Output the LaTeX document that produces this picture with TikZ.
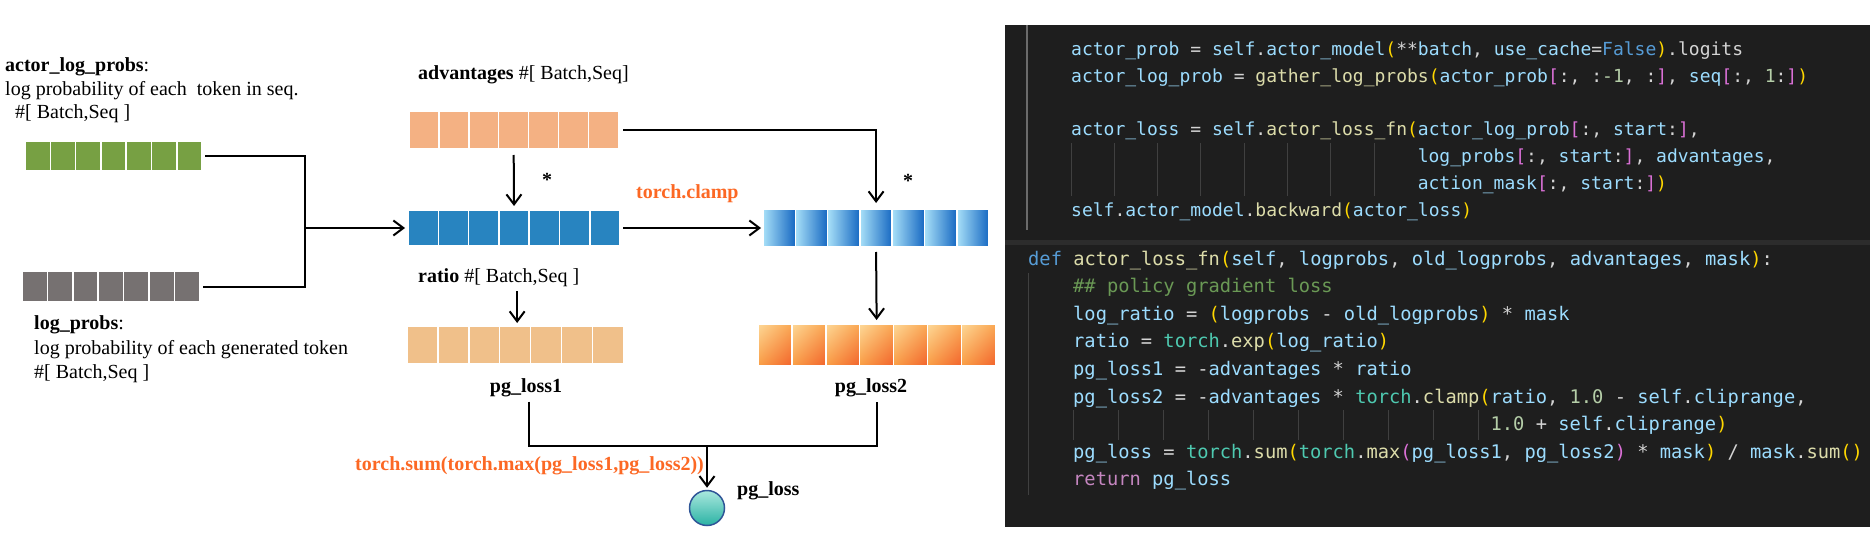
\documentclass[tikz,border=0pt]{standalone}
\usepackage{fontspec}
\setmainfont{Liberation Serif}
\newfontfamily\codefont{DejaVu Sans Mono}
\usetikzlibrary{arrows.meta,shadings}
% diagram colours
\definecolor{cGreen}{RGB}{119,160,67}
\definecolor{cGray}{RGB}{118,113,113}
\definecolor{cAdv}{RGB}{244,177,131}
\definecolor{cBlue}{RGB}{40,132,192}
\definecolor{cRatio}{RGB}{240,192,138}
\definecolor{cGBl}{RGB}{168,224,248}
\definecolor{cGBm}{RGB}{110,182,232}
\definecolor{cGBr}{RGB}{22,104,194}
\definecolor{cGOul}{RGB}{253,216,152}
\definecolor{cGOur}{RGB}{250,168,82}
\definecolor{cGOll}{RGB}{249,158,68}
\definecolor{cGOlr}{RGB}{242,98,44}
\definecolor{cTorch}{RGB}{252,104,36}
\definecolor{cTeal}{RGB}{42,178,164}
\definecolor{cTealL}{RGB}{170,232,222}
\definecolor{cCircB}{RGB}{47,85,151}
% code colours
\definecolor{cBg}{RGB}{30,30,30}
\definecolor{cSep}{RGB}{44,44,44}
\definecolor{cGuide}{RGB}{64,64,64}
\definecolor{cGuideA}{RGB}{107,107,107}
\definecolor{cVar}{HTML}{9CDCFE}
\definecolor{cFun}{HTML}{DCDCAA}
\definecolor{cOp}{HTML}{D4D4D4}
\definecolor{cKw}{HTML}{569CD6}
\definecolor{cRet}{HTML}{C586C0}
\definecolor{cCom}{HTML}{6A9955}
\definecolor{cNum}{HTML}{B5CEA8}
\definecolor{cCls}{HTML}{4EC9B0}
\definecolor{cBrA}{HTML}{FFD700}
\definecolor{cBrB}{HTML}{DA70D6}
\newcommand\kV[1]{\textcolor{cVar}{#1}}
\newcommand\kF[1]{\textcolor{cFun}{#1}}
\newcommand\kO[1]{\textcolor{cOp}{#1}}
\newcommand\kK[1]{\textcolor{cKw}{#1}}
\newcommand\kR[1]{\textcolor{cRet}{#1}}
\newcommand\kC[1]{\textcolor{cCom}{#1}}
\newcommand\kN[1]{\textcolor{cNum}{#1}}
\newcommand\kT[1]{\textcolor{cCls}{#1}}
\newcommand\kA[1]{\textcolor{cBrA}{#1}}
\newcommand\kB[1]{\textcolor{cBrB}{#1}}
\newcommand\tokbar[6]{%
  \node[inner sep=0pt, outer sep=0pt, minimum width={7*#4*1pt}, minimum height={#5*1pt}, anchor=north west] (#1) at (#2,#3) {};
  \foreach \i in {0,...,6}{\path[#6] ({#2+\i*#4},#3) rectangle ++(#4,#5);}
}
\tikzset{
  conn/.style={draw=black, line width=2pt},
  arr/.style={conn, -{Straight Barb[length=10pt,width=15pt]}},
  lbl/.style={inner sep=0pt, anchor=base west, font=\fontsize{20}{24}\selectfont},
  blbl/.style={inner sep=0pt, anchor=base, font=\fontsize{20}{24}\selectfont\bfseries},
  orng/.style={lbl, font=\fontsize{20}{24}\selectfont\bfseries, text=cTorch},
  code/.style={inner sep=0pt, anchor=base west, font=\fontsize{18}{22}\selectfont\codefont},
  codeb/.style={code, font=\fontsize{18.74}{22}\selectfont\codefont},
  guide/.style={draw=cGuide, line width=1pt},
  guideA/.style={draw=cGuideA, line width=1.2pt},
  cellbase/.style={draw=white, line width=1.5pt},
  cellG/.style={cellbase, fill=cGreen},
  cellK/.style={cellbase, fill=cGray},
  cellA/.style={cellbase, fill=cAdv},
  cellB/.style={cellbase, fill=cBlue},
  cellR/.style={cellbase, fill=cRatio},
  cellGB/.style={cellbase, left color=cGBl, middle color=cGBm, right color=cGBr},
  cellGO/.style={cellbase, upper left=cGOul, upper right=cGOur, lower left=cGOll, lower right=cGOlr},
}
\begin{document}
\begin{tikzpicture}[x=1pt,y=-1pt]
\useasboundingbox (0,0) rectangle (1870,540);

% ---------------- left diagram ----------------
\node[lbl] (t1) at (5,72) {\textbf{actor\_log\_probs}:};
\node[lbl] (t2) at (5,96) {log probability of each\ \ token in seq.};
\node[lbl] (t3) at (15,119) {\#[ Batch,Seq ]};
\node[lbl] (t4) at (34,329) {\textbf{log\_probs}:};
\node[lbl] (t5) at (34,354) {log probability of each generated token};
\node[lbl] (t6) at (34,378) {\#[ Batch,Seq ]};
\node[lbl] (al) at (418,80) {\textbf{advantages} \#[ Batch,Seq]};
\node[lbl] (rl) at (418,282) {\textbf{ratio} \#[ Batch,Seq ]};
\node[orng] (tc) at (636,198) {torch.clamp};
\node[blbl] (s1) at (547,186) {*};
\node[blbl] (s2) at (908,187) {*};
\node[blbl] (l1) at (526,392) {pg\_loss1};
\node[blbl] (l2) at (871,392) {pg\_loss2};
\node[orng] (ts) at (355,470) {torch.sum(torch.max(pg\_loss1,pg\_loss2))};
\node[blbl, anchor=base west] (pt) at (737,495) {pg\_loss};

\tokbar{green}{25}{141}{25.3}{30}{cellG}
\tokbar{gray}{22}{271}{25.4}{31}{cellK}
\tokbar{adv}{409}{111}{29.9}{38}{cellA}
\tokbar{blue}{408}{210}{30.3}{36}{cellB}
\tokbar{ratio}{407}{326}{30.9}{38}{cellR}
\tokbar{gblue}{763}{209}{32.3}{38}{cellGB}
\tokbar{gorg}{758}{324}{33.9}{42}{cellGO}

\node[circle, draw=cCircB, line width=1.5pt, minimum size=35pt, inner sep=0pt,
      top color=cTealL, middle color=cTeal, bottom color=cTeal] (pl) at (707,508) {};

\coordinate (j1) at (305,228);
\coordinate (j2) at (707,446);
\draw[conn, shorten <=3pt, shorten >=3pt] (green.east) -| (j1) |- (gray.east);
\draw[arr, shorten >=3pt] (j1) -- (blue.west);
\draw[arr, shorten <=6pt, shorten >=4pt] (adv.south) -- (blue.north);
\draw[arr, shorten <=5pt, shorten >=6pt] (adv.east) -| (gblue.north);
\draw[arr, shorten <=3pt, shorten >=2pt] (blue.east) -- (gblue.west);
\draw[arr, shorten <=5pt, shorten >=4pt] (gblue.south) -- (gorg.north);
\draw[arr, shorten <=5pt, shorten >=3pt] ([xshift=2pt]ratio.north |- rl.south) -- ([xshift=2pt]ratio.north);
\draw[conn, shorten <=5pt, shorten >=5pt] ([xshift=3pt]l1.south) |- (j2) -| (gorg.south |- l2.south);
\draw[arr, shorten >=2pt] (j2) -- (pl.north);

% ---------------- code panel ----------------
\fill[cBg] (1005,25) rectangle (1870,527);
\fill[cSep] (1005,240) rectangle (1870,245);
\draw[guideA] (1027,25) -- (1027,230);
\draw[guide] (1028,273) -- (1028,495);
\foreach \k in {0,...,7} {\draw[guide] ({1071+\k*43.3},143) -- ++(0,53);}
\foreach \k in {0,...,9} {\draw[guide] ({1073+\k*45.1},410) -- ++(0,30);}

\node[code] (c1) at (1071,56) {\kV{actor\_prob} \kO{=} \kV{self}\kO{.}\kV{actor\_model}\kA{(}\kO{**}\kV{batch}\kO{,} \kV{use\_cache}\kO{=}\kK{False}\kA{)}\kO{.logits}};
\node[code] (c2) at (1071,82.7) {\kV{actor\_log\_prob} \kO{=} \kF{gather\_log\_probs}\kA{(}\kV{actor\_prob}\kB{[}\kO{:,} \kO{:}\kN{-1}\kO{,} \kO{:}\kB{]}\kO{,} \kV{seq}\kB{[}\kO{:,} \kN{1}\kO{:}\kB{]}\kA{)}};
\node[code] (c3) at (1071,136) {\kV{actor\_loss} \kO{=} \kV{self}\kO{.}\kF{actor\_loss\_fn}\kA{(}\kV{actor\_log\_prob}\kB{[}\kO{:,} \kV{start}\kO{:}\kB{]}\kO{,}};
\node[code] (c4) at (1417.6,162.7) {\kV{log\_probs}\kB{[}\kO{:,} \kV{start}\kO{:}\kB{]}\kO{,} \kV{advantages}\kO{,}};
\node[code] (c5) at (1417.6,189.4) {\kV{action\_mask}\kB{[}\kO{:,} \kV{start}\kO{:}\kB{]}\kA{)}};
\node[code] (c6) at (1071,216) {\kV{self}\kO{.}\kV{actor\_model}\kO{.}\kF{backward}\kA{(}\kV{actor\_loss}\kA{)}};

\node[codeb] (b0) at (1028,265) {\kK{def} \kF{actor\_loss\_fn}\kA{(}\kV{self}\kO{,} \kV{logprobs}\kO{,} \kV{old\_logprobs}\kO{,} \kV{advantages}\kO{,} \kV{mask}\kA{)}\kO{:}};
\node[codeb] (b1) at (1073,292.6) {\kC{\#\# policy gradient loss}};
\node[codeb] (b2) at (1073,320.2) {\kV{log\_ratio} \kO{=} \kA{(}\kV{logprobs} \kO{-} \kV{old\_logprobs}\kA{)} \kO{*} \kV{mask}};
\node[codeb] (b3) at (1073,347.8) {\kV{ratio} \kO{=} \kT{torch}\kO{.}\kF{exp}\kA{(}\kV{log\_ratio}\kA{)}};
\node[codeb] (b4) at (1073,375.4) {\kV{pg\_loss1} \kO{=} \kO{-}\kV{advantages} \kO{*} \kV{ratio}};
\node[codeb] (b5) at (1073,403) {\kV{pg\_loss2} \kO{=} \kO{-}\kV{advantages} \kO{*} \kT{torch}\kO{.}\kF{clamp}\kA{(}\kV{ratio}\kO{,} \kN{1.0} \kO{-} \kV{self}\kO{.}\kV{cliprange}\kO{,}};
\node[codeb] (b6) at (1490.4,430.6) {\kN{1.0} \kO{+} \kV{self}\kO{.}\kV{cliprange}\kA{)}};
\node[codeb] (b7) at (1073,458.2) {\kV{pg\_loss} \kO{=} \kT{torch}\kO{.}\kF{sum}\kA{(}\kT{torch}\kO{.}\kF{max}\kB{(}\kV{pg\_loss1}\kO{,} \kV{pg\_loss2}\kB{)} \kO{*} \kV{mask}\kA{)} \kO{/} \kV{mask}\kO{.}\kF{sum}\kA{()}};
\node[codeb] (b8) at (1073,485.8) {\kR{return} \kV{pg\_loss}};
\end{tikzpicture}
\end{document}
